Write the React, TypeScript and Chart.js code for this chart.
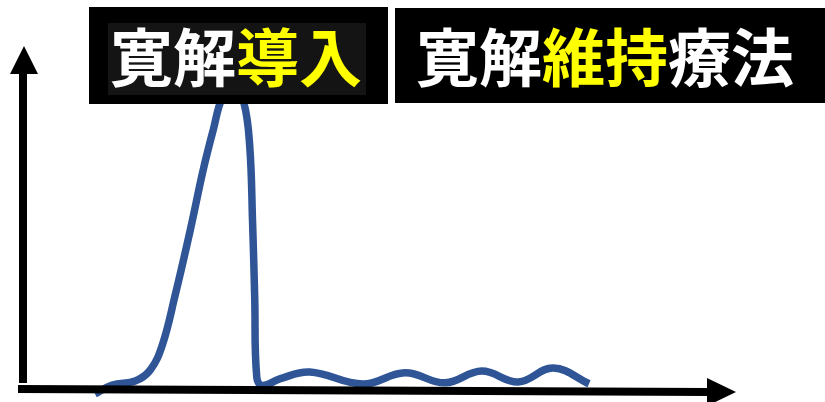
import React, { useEffect, useRef } from "react";
import { Chart, registerables } from "chart.js";

Chart.register(...registerables);

// time (arbitrary units) and level (arbitrary units, 0 = baseline, 100 = peak)
const time = [10.2, 12.6, 15.8, 17.9, 19.6, 21.4, 23.5, 25.3, 26.7, 28.0, 29.6, 31.0, 31.8, 32.2, 32.5, 32.8, 33.6, 36.0, 40.2, 47.6, 53.5, 59.1, 64.2, 69.3, 74.2, 79.2];
const level = [-2.0, 1.0, 2.3, 5.9, 14.2, 30.7, 52.1, 71.9, 85.1, 96.0, 100.0, 94.0, 80.0, 55.0, 30.0, 3.3, 0.8, 3.0, 5.3, 1.3, 5.0, 1.7, 5.6, 2.0, 6.6, 1.4];

// header labels: segments, alternating highlight
const labelInduction = ["寛解", "導入"];
const labelMaintenance = ["寛解", "維持", "療法"];
const highlightInduction = [false, true];
const highlightMaintenance = [false, true, false];

const BLUE = "#2F5597";
const FONT = "bold 63px 'Noto Sans CJK JP', 'Noto Sans CJK SC', sans-serif";

const decorPlugin = {
  id: "decor",
  afterDatasetsDraw(chart: any) {
    const ctx = chart.ctx as CanvasRenderingContext2D;
    const a = chart.chartArea;
    ctx.save();
    ctx.fillStyle = "#000";
    // y axis shaft + arrow
    const yx = a.left + 1;
    ctx.fillRect(yx - 4, 72, 8, a.bottom - 5 - 72);
    ctx.beginPath();
    ctx.moveTo(yx + 1, 46);
    ctx.lineTo(yx - 13, 74);
    ctx.lineTo(yx + 15, 74);
    ctx.closePath();
    ctx.fill();
    // x axis shaft + arrow (slightly sloped)
    ctx.beginPath();
    ctx.moveTo(18, 385);
    ctx.lineTo(710, 388);
    ctx.lineTo(710, 396);
    ctx.lineTo(18, 393);
    ctx.closePath();
    ctx.fill();
    ctx.beginPath();
    ctx.moveTo(736, 392);
    ctx.lineTo(707, 378);
    ctx.lineTo(707, 406);
    ctx.closePath();
    ctx.fill();

    // header boxes
    ctx.fillStyle = "#000";
    ctx.fillRect(89, 7, 299, 97);
    ctx.fillStyle = "#141414";
    ctx.fillRect(108, 23, 258, 72);
    ctx.fillStyle = "#000";
    ctx.fillRect(395, 8, 430, 95);

    ctx.font = FONT;
    ctx.textBaseline = "middle";
    ctx.textAlign = "left";
    const drawSegs = (segs: string[], hl: boolean[], x0: number, y: number) => {
      let x = x0;
      segs.forEach((s, i) => {
        ctx.fillStyle = hl[i] ? "#FFFF00" : "#FFFFFF";
        ctx.fillText(s, x, y);
        x += ctx.measureText(s).width;
      });
    };
    drawSegs(labelInduction, highlightInduction, 110, 57);
    drawSegs(labelMaintenance, highlightMaintenance, 416, 57);
    ctx.restore();
  },
};

export default function App() {
  const ref = useRef<HTMLCanvasElement | null>(null);
  useEffect(() => {
    if (!ref.current) return;
    const chart = new Chart(ref.current, {
      type: "line",
      data: {
        datasets: [
          {
            data: time.map((t, i) => ({ x: t, y: level[i] })),
            borderColor: BLUE,
            borderWidth: 7.5,
            pointRadius: 0,
            tension: 0.4,
            fill: false,
            clip: false as any,
          },
        ],
      },
      options: {
        animation: false,
        responsive: false,
        devicePixelRatio: 1,
        layout: { padding: { left: 22, right: 87, top: 85, bottom: 14 } },
        plugins: { legend: { display: false }, tooltip: { enabled: false } },
        scales: {
          x: { type: "linear", min: 0, max: 100, display: false },
          y: { type: "linear", min: 0, max: 100, display: false },
        },
      },
      plugins: [decorPlugin],
    });
    return () => chart.destroy();
  }, []);
  return (
    <div style={{ position: "absolute", left: 0, top: 0, width: 825, height: 402, background: "#fff" }}>
      <canvas ref={ref} width={825} height={402} />
    </div>
  );
}
